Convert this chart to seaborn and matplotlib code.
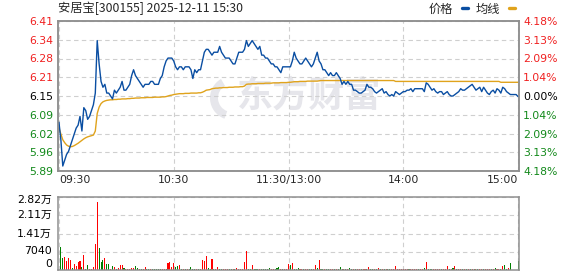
import numpy as np
import pandas as pd
import matplotlib
matplotlib.use("Agg")
import matplotlib.pyplot as plt
import matplotlib.transforms as mtrans
from matplotlib.lines import Line2D
from matplotlib.patches import Wedge
import seaborn as sns

# ---------------- data ----------------
title = "安居宝[300155] 2025-12-11 15:30"
prev_close = 6.15
max_pct = 4.18

price = [
    6.06, 6.00, 5.91, 5.93, 5.95, 5.96, 5.98, 6.00, 6.02, 6.04, 6.05,
    6.08, 6.03, 6.11, 6.10, 6.07, 6.08, 6.10, 6.12, 6.16, 6.34,
    6.26, 6.20, 6.18, 6.19, 6.16, 6.16, 6.15, 6.14, 6.17, 6.16,
    6.17, 6.18, 6.20, 6.17, 6.17, 6.18, 6.19, 6.22, 6.24, 6.22,
    6.21, 6.20, 6.19, 6.18, 6.19, 6.19, 6.19, 6.20, 6.20, 6.19,
    6.19, 6.19, 6.21, 6.22, 6.25, 6.27, 6.28, 6.28, 6.28, 6.27,
    6.25, 6.24, 6.25, 6.25, 6.24, 6.25, 6.25, 6.25, 6.24, 6.21,
    6.24, 6.23, 6.24, 6.24, 6.27, 6.30, 6.31, 6.31, 6.30, 6.29,
    6.30, 6.30, 6.30, 6.32, 6.30, 6.29, 6.28, 6.28, 6.28, 6.27,
    6.26, 6.26, 6.28, 6.30, 6.30, 6.30, 6.31, 6.34, 6.32, 6.33,
    6.34, 6.33, 6.32, 6.31, 6.32, 6.29, 6.29, 6.28, 6.28, 6.27,
    6.26, 6.26, 6.25, 6.25, 6.24, 6.23, 6.25, 6.25, 6.25, 6.25,
    6.25, 6.27, 6.30, 6.28, 6.27, 6.26, 6.26, 6.27, 6.28, 6.27,
    6.26, 6.25, 6.26, 6.28, 6.30, 6.27, 6.26, 6.24, 6.24, 6.23,
    6.22, 6.23, 6.22, 6.22, 6.23, 6.22, 6.21, 6.19, 6.20, 6.19,
    6.20, 6.19, 6.19, 6.17, 6.17, 6.165, 6.16, 6.16, 6.165, 6.17,
    6.19, 6.18, 6.18, 6.175, 6.165, 6.16, 6.165, 6.17, 6.175, 6.16,
    6.165, 6.155, 6.15, 6.155, 6.15, 6.165, 6.16, 6.155, 6.16, 6.165,
    6.165, 6.17, 6.17, 6.175, 6.165, 6.175, 6.175, 6.175, 6.175, 6.175,
    6.165, 6.195, 6.19, 6.18, 6.17, 6.175, 6.165, 6.16, 6.165, 6.165,
    6.155, 6.16, 6.165, 6.155, 6.15, 6.15, 6.155, 6.16, 6.165, 6.175,
    6.17, 6.17, 6.175, 6.18, 6.185, 6.19, 6.18, 6.17, 6.175, 6.18,
    6.165, 6.18, 6.17, 6.16, 6.155, 6.165, 6.17, 6.16, 6.175, 6.17,
    6.16, 6.18, 6.175, 6.165, 6.16, 6.155, 6.155, 6.155, 6.155, 6.148,
]

avg_price = [
    6.040, 6.020, 6.000, 5.990, 5.982, 5.978, 5.976, 5.977, 5.980, 5.984, 5.988,
    5.993, 5.998, 6.003, 6.007, 6.010, 6.012, 6.014, 6.016, 6.030, 6.090,
    6.112, 6.124, 6.130, 6.133, 6.135, 6.136, 6.137, 6.137, 6.138, 6.138,
    6.139, 6.139, 6.140, 6.140, 6.140, 6.141, 6.141, 6.142, 6.142, 6.143,
    6.143, 6.143, 6.144, 6.144, 6.144, 6.145, 6.145, 6.145, 6.145, 6.146,
    6.146, 6.146, 6.146, 6.147, 6.147, 6.148, 6.150, 6.152, 6.153, 6.155,
    6.156, 6.157, 6.158, 6.158, 6.158, 6.159, 6.159, 6.159, 6.160, 6.160,
    6.160, 6.160, 6.161, 6.161, 6.163, 6.166, 6.170, 6.171, 6.172, 6.175,
    6.176, 6.177, 6.177, 6.178, 6.178, 6.179, 6.179, 6.179, 6.180, 6.180,
    6.180, 6.181, 6.181, 6.181, 6.182, 6.182, 6.184, 6.190, 6.191, 6.191,
    6.192, 6.192, 6.192, 6.193, 6.193, 6.193, 6.193, 6.194, 6.194, 6.194,
    6.194, 6.195, 6.195, 6.195, 6.195, 6.196, 6.196, 6.196, 6.196, 6.197,
    6.197, 6.198, 6.199, 6.199, 6.199, 6.200, 6.200, 6.200, 6.200, 6.201,
    6.201, 6.201, 6.201, 6.201, 6.201, 6.202, 6.203, 6.203, 6.203, 6.203,
    6.203, 6.203, 6.203, 6.203, 6.203, 6.203, 6.203, 6.203, 6.203, 6.203,
    6.203, 6.203, 6.203, 6.203, 6.203, 6.203, 6.203, 6.203, 6.203, 6.203,
    6.203, 6.203, 6.203, 6.203, 6.203, 6.203, 6.203, 6.203, 6.203, 6.203,
    6.203, 6.203, 6.203, 6.203, 6.203, 6.200, 6.200, 6.200, 6.200, 6.200,
    6.200, 6.200, 6.200, 6.200, 6.200, 6.200, 6.200, 6.200, 6.200, 6.200,
    6.200, 6.200, 6.200, 6.200, 6.200, 6.200, 6.200, 6.200, 6.200, 6.200,
    6.200, 6.200, 6.200, 6.200, 6.200, 6.200, 6.200, 6.200, 6.200, 6.200,
    6.200, 6.200, 6.200, 6.200, 6.200, 6.200, 6.200, 6.200, 6.200, 6.200,
    6.200, 6.200, 6.200, 6.200, 6.200, 6.200, 6.200, 6.200, 6.200, 6.200,
    6.197, 6.197, 6.197, 6.197, 6.197, 6.197, 6.197, 6.197, 6.197, 6.197,
]

volume = [
    0, 8880, 4440, 5070, 3550, 4440, 3930, 630, 2160, 1650, 3170,
    3550, 1270, 5700, 380, 2030, 380, 380, 1270, 9890, 26250,
    8500, 3170, 3930, 4560, 2160, 2160, 380, 1520, 1140, 380,
    760, 1900, 1900, 890, 380, 380, 380, 760, 760, 1520,
    890, 380, 380, 380, 1010, 380, 380, 300, 300, 300,
    300, 300, 300, 300, 380, 380, 2660, 3040, 1010, 2660,
    1010, 1520, 2030, 380, 380, 380, 380, 380, 1140, 380,
    380, 380, 380, 380, 3800, 3550, 5580, 760, 380, 4180,
    380, 380, 1140, 380, 380, 380, 380, 380, 380, 380,
    380, 380, 760, 380, 380, 380, 3170, 7350, 380, 380,
    2030, 380, 380, 380, 380, 380, 380, 380, 380, 890,
    380, 380, 380, 890, 1270, 380, 380, 380, 380, 2160,
    1900, 2660, 380, 380, 890, 380, 380, 380, 380, 380,
    380, 380, 380, 2030, 760, 3800, 380, 380, 380, 380,
    380, 380, 380, 380, 380, 380, 1140, 380, 380, 380,
    380, 890, 380, 380, 380, 380, 380, 380, 380, 380,
    380, 1100, 380, 380, 380, 380, 760, 380, 380, 380,
    380, 380, 380, 380, 380, 1650, 380, 380, 380, 380,
    380, 380, 380, 380, 380, 380, 380, 380, 380, 380,
    760, 3040, 380, 380, 380, 380, 380, 380, 380, 380,
    380, 380, 1650, 380, 380, 760, 1650, 380, 380, 380,
    380, 380, 380, 380, 380, 380, 380, 380, 380, 380,
    380, 380, 380, 380, 380, 380, 380, 760, 380, 380,
    380, 1650, 2030, 380, 760, 2660, 0, 0, 0, 3550,
]

# R = up minute (red), G = down minute (green)
vol_dir = ("GGGRRRRGRRR" "RGRGGRRRRR" "GGGRGGRGRG" "RRRGRRRRRG" "GRGRRGGRGG"
           "GGGRRGRRRR" "GGRGRGRGGG" "GRGRRRRGGR" "GRRGGRRRGG" "RGRRRRRRGG"
           "RGGGRGGGGG" "RRGGGRGRRR" "GRGGGRRGRR" "GGRRGRGGRG" "GRRGRGGGRG"
           "RGGRGRRGRR" "GRGGRGRGRG" "RGGRRRRRRR" "RRGRRRRGRR" "GRGGGRRRRG"
           "RRRGRGRGRR" "GRGRGRGRGR" "RGRRRGRGRR" "GRGGRGGGGG")

time_ticks = [0, 60, 120, 180, 240]
time_labels = ["09:30", "10:30", "11:30/13:00", "14:00", "15:00"]
price_labels = ["5.89", "5.96", "6.02", "6.09", "6.15", "6.21", "6.28", "6.34", "6.41"]
pct_labels = ["4.18%", "3.13%", "2.09%", "1.04%", "0.00%", "1.04%", "2.09%", "3.13%", "4.18%"]
vol_max = 28160
vol_ticks = [0, 7040, 14080, 21120, 28160]
vol_labels = ["0", "7040", "1.41万", "2.11万", "2.82万"]
legend_labels = ["价格", "均线"]
watermark = "东方财富"

# ---------------- style ----------------
sns.set_style("white")
plt.rcParams["font.family"] = ["DejaVu Sans", "Noto Sans CJK SC"]
CJK = ["Noto Sans CJK SC", "DejaVu Sans"]

price_color = "#0a4ea2"
avg_color = "#e0a31c"
up_color = "#f02020"
down_color = "#12891a"
spine_color = "#8f8f8f"
grid_color = "#cfcfcf"
wm_color = "#e6e6eb"
FS = 7.8

W, H = 578, 276
fig = plt.figure(figsize=(W / 100, H / 100), dpi=100)


def rect(x0, y0, x1, y1):
    return [x0 / W, 1 - y1 / H, (x1 - x0) / W, (y1 - y0) / H]


ax = fig.add_axes(rect(58, 21, 519, 171))
axv = fig.add_axes(rect(58, 197, 519, 270))

n = len(price)
df = pd.DataFrame({
    "t": np.arange(n),
    "price": price,
    "avg": avg_price,
    "vol": volume,
    "dir": list(vol_dir),
})

# watermark (logo swirl + text)
ax.text(0.544, 0.50, watermark, transform=ax.transAxes, ha="center", va="center",
        fontsize=26, fontweight="bold", color=wm_color, family=CJK, zorder=0)
swirl = Wedge((232, H - 98), 22, 120, 250, width=8, transform=mtrans.IdentityTransform(),
              facecolor=wm_color, edgecolor="none", zorder=0)
ax.add_artist(swirl)

sns.lineplot(data=df, x="t", y="avg", color=avg_color, lw=1.0, ax=ax, zorder=3)
sns.lineplot(data=df, x="t", y="price", color=price_color, lw=1.0, ax=ax, zorder=4)

lo = prev_close * (1 - max_pct / 100)
hi = prev_close * (1 + max_pct / 100)
yt = np.linspace(lo, hi, len(price_labels))
ax.set_xlim(-0.5, n - 0.5)
ax.set_ylim(lo, hi)
ax.set_yticks(yt)
ax.set_yticklabels(price_labels)
ax.set_xticks(time_ticks)
ax.set_xticklabels(time_labels)
ax.set_xlabel("")
ax.set_ylabel("")
ax.tick_params(axis="both", length=0, labelsize=FS)
ax.tick_params(axis="y", pad=3.2)
ax.tick_params(axis="x", pad=3.0)
mid = len(price_labels) // 2
for i, lab in enumerate(ax.get_yticklabels()):
    lab.set_color(up_color if i > mid else (down_color if i < mid else "black"))
xl = ax.get_xticklabels()
xl[0].set_horizontalalignment("left")
xl[-1].set_horizontalalignment("right")
ax.grid(True, ls=(0, (4, 3)), color=grid_color, lw=0.8)

axr = ax.twinx()
axr.set_ylim(lo, hi)
axr.set_yticks(yt)
axr.set_yticklabels(pct_labels)
axr.tick_params(axis="y", length=0, labelsize=FS, pad=3.0)
for i, lab in enumerate(axr.get_yticklabels()):
    lab.set_color(up_color if i > mid else (down_color if i < mid else "black"))

for a in (ax, axr, axv):
    for s in a.spines.values():
        s.set_color(spine_color)
        s.set_linewidth(1.1)

# volume panel
sns.barplot(data=df, x="t", y="vol", hue="dir", palette={"R": "#ff0000", "G": "#008000"},
            native_scale=True, dodge=False, width=0.55, errorbar=None, legend=False,
            saturation=1, linewidth=0, ax=axv)
axv.set_xlim(-0.5, n - 0.5)
axv.set_ylim(0, vol_max)
axv.set_xticks(time_ticks)
axv.set_xticklabels([])
axv.set_yticks(vol_ticks)
axv.set_yticklabels([])
axv.set_xlabel("")
axv.set_ylabel("")
axv.tick_params(axis="both", length=0)
axv.grid(True, ls=(0, (4, 3)), color=grid_color, lw=0.8)
axv.set_axisbelow(True)

vol_offsets = [6, 1, 0, 0, -3]
blend = mtrans.blended_transform_factory(axv.transAxes, axv.transData)
for v, lab, dy in zip(vol_ticks, vol_labels, vol_offsets):
    axv.annotate(lab, xy=(0, v), xycoords=blend, xytext=(-6, dy), textcoords="offset pixels",
                 ha="right", va="center", fontsize=FS, color="black",
                 family=["DejaVu Sans", "Noto Sans CJK SC"], annotation_clip=False)

# title and legend
fig.text(58 / W, 1 - 8.5 / H, title, ha="left", va="center", fontsize=8.8, family=CJK)
handles = [Line2D([], [], color=price_color, lw=2.4), Line2D([], [], color=avg_color, lw=2.4)]
fig.legend(handles, legend_labels, loc="center right", bbox_to_anchor=(515 / W, 1 - 9 / H),
           ncol=2, frameon=False, markerfirst=False, handlelength=0.45, handletextpad=0.8,
           columnspacing=0.6, borderpad=0, borderaxespad=0,
           prop={"family": CJK, "size": 8.8})

fig.savefig("out.png", dpi=100)
